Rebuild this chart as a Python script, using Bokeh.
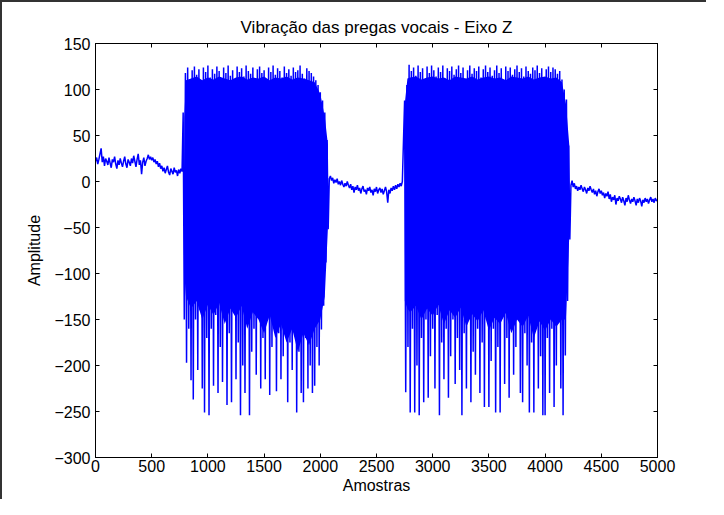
from bokeh.plotting import figure
from bokeh.models import LinearAxis, FixedTicker, Range1d
from bokeh.embed import file_html
from bokeh.resources import INLINE

title_text = "Vibração das pregas vocais - Eixo Z"
x_label = "Amostras"
y_label = "Amplitude"
x_ticks = [0, 500, 1000, 1500, 2000, 2500, 3000, 3500, 4000, 4500, 5000]
y_ticks = [-300, -250, -200, -150, -100, -50, 0, 50, 100, 150]

# quiet segment before first burst (samples 0..770, every 10 samples)
quiet1_start, quiet1_step = 0, 10
quiet1 = [22, 26, 19, 24, 30, 36, 21, 27, 17, 25,
          22, 18, 26, 20, 15, 24, 21, 27, 19, 14,
          23, 18, 25, 20, 16, 22, 27, 19, 15, 24,
          21, 17, 25, 20, 28, 22, 16, 24, 30, 18,
          23, 8, 21, 26, 17, 22, 25, 29, 24, 27,
          23, 26, 21, 24, 19, 22, 16, 20, 14, 17,
          11, 15, 9, 13, 17, 10, 7, 14, 11, 8,
          15, 10, 12, 6, 13, 9, 14, 11]

# first burst: peak (top) and trough (bottom) values, every 20 samples
burst1_start, burst1_step = 780, 20
burst1_top = [75, 118, 124, 110, 121, 125, 116, 122, 108, 124,
              119, 126, 113, 122, 117, 125, 120, 111, 124, 118,
              126, 115, 121, 109, 125, 119, 123, 114, 126, 120,
              117, 124, 112, 122, 125, 118, 121, 110, 124, 119,
              126, 116, 123, 120, 113, 125, 118, 122, 115, 124,
              119, 121, 126, 117, 112, 123, 120, 118, 114, 110,
              105, 97, 88, 75, 45]
burst1_bottom = [-150, -197, -160, -216, -237, -150, -205, -140, -225, -251,
                 -170, -254, -160, -222, -145, -230, -180, -218, -150, -243,
                 -165, -240, -140, -215, -175, -254, -200, -230, -150, -254,
                 -185, -160, -210, -140, -225, -170, -215, -150, -232, -180,
                 -145, -228, -165, -215, -190, -150, -240, -175, -205, -160,
                 -251, -185, -230, -240, -170, -225, -200, -230, -222, -180,
                 -200, -161, -135, -88, -52]
# densely filled core of the first burst
core1_x = [790, 805, 850, 900, 950, 1000, 1050, 1100, 1150, 1200, 1250, 1300,
           1350, 1400, 1450, 1500, 1550, 1600, 1650, 1700, 1750, 1800, 1850,
           1900, 1950, 2000, 2040, 2068]
core1_top = [70, 110, 112, 114, 110, 113, 111, 114, 112, 110, 113, 114,
             111, 113, 112, 114, 110, 113, 112, 114, 111, 113, 112,
             110, 108, 95, 70, 40]
core1_bottom = [-100, -125, -138, -130, -150, -134, -145, -132, -155, -138, -148, -135,
                -160, -142, -150, -165, -145, -170, -155, -175, -160, -185, -165,
                -178, -160, -150, -125, -50]

# quiet segment between bursts
quiet2_start, quiet2_step = 2080, 10
quiet2 = [3, 6, 1, 4, -2, 2, -1, 3, -3, 0,
          -4, 1, -3, -6, -2, -5, 0, -4, -7, -3,
          -9, -5, -12, -6, -9, -4, -10, -7, -13, -8,
          -5, -11, -9, -14, -7, -10, -6, -12, -9, -15,
          -8, -11, -6, -13, -9, -7, -12, -8, -14, -10,
          -6, -11, -23, -9, -13, -7, -10, -5, -9, -4,
          -8, -3, -6, -2, -5, 0]

# second burst
burst2_start, burst2_step = 2750, 20
burst2_top = [88, 105, 127, 120, 124, 115, 126, 119, 123, 110,
              125, 118, 126, 121, 114, 124, 119, 126, 112, 123,
              120, 125, 116, 122, 126, 118, 124, 109, 121, 126,
              117, 123, 120, 125, 113, 122, 126, 119, 124, 115,
              121, 126, 118, 123, 111, 125, 120, 124, 116, 122,
              126, 119, 123, 114, 125, 120, 117, 124, 121, 126,
              118, 123, 112, 122, 125, 119, 124, 122, 117, 120,
              111, 100, 89, 39]
burst2_bottom = [-229, -180, -251, -160, -251, -200, -254, -170, -240, -150,
                 -235, -190, -160, -225, -145, -254, -175, -215, -160, -235,
                 -190, -150, -220, -170, -205, -254, -165, -225, -150, -240,
                 -185, -210, -160, -230, -175, -245, -150, -245, -195, -160,
                 -251, -180, -251, -140, -220, -170, -235, -155, -210, -180,
                 -150, -230, -240, -165, -200, -251, -175, -251, -150, -225,
                 -190, -254, -254, -170, -230, -160, -245, -200, -150, -225,
                 -254, -189, -130, -63]
# densely filled core of the second burst
core2_x = [2752, 2775, 2800, 2850, 2900, 2950, 3000, 3050, 3100, 3150, 3200,
           3250, 3300, 3350, 3400, 3450, 3500, 3550, 3600, 3650, 3700, 3750,
           3800, 3850, 3900, 3950, 4000, 4050, 4100, 4150, 4185, 4215]
core2_top = [85, 112, 113, 114, 111, 113, 114, 112, 113, 110, 114,
             113, 112, 114, 111, 113, 114, 112, 113, 110, 114, 113,
             112, 114, 111, 113, 114, 112, 113, 108, 85, 40]
core2_bottom = [-130, -138, -142, -135, -150, -138, -146, -134, -155, -140, -148,
                -137, -158, -144, -152, -140, -162, -148, -155, -143, -165, -150,
                -158, -146, -170, -152, -162, -150, -158, -150, -150, -60]

# quiet segment after second burst
quiet3_start, quiet3_step = 4230, 10
quiet3 = [-4, 1, -6, -2, -8, -5, -10, -6, -9, -4,
          -8, -11, -6, -9, -13, -7, -10, -5, -9, -12,
          -8, -14, -10, -16, -11, -8, -13, -10, -15, -12,
          -18, -13, -16, -11, -19, -14, -22, -17, -20, -15,
          -25, -18, -21, -16, -19, -23, -17, -21, -26, -18,
          -22, -15, -20, -24, -19, -22, -17, -21, -26, -19,
          -23, -18, -21, -27, -20, -23, -18, -22, -19, -24,
          -20, -17, -22, -19, -23, -18, -21, -20]


def quiet_pts(start, step, vals):
    return [start + i * step for i in range(len(vals))], list(vals)


def burst_pts(start, step, tops, bottoms):
    xs, ys = [], []
    for i, (t, b) in enumerate(zip(tops, bottoms)):
        xs += [start + i * step, start + i * step + step / 2]
        ys += [t, b]
    return xs, ys


xs, ys = [], []
for sx, sy in [quiet_pts(quiet1_start, quiet1_step, quiet1),
               burst_pts(burst1_start, burst1_step, burst1_top, burst1_bottom),
               quiet_pts(quiet2_start, quiet2_step, quiet2),
               burst_pts(burst2_start, burst2_step, burst2_top, burst2_bottom),
               quiet_pts(quiet3_start, quiet3_step, quiet3)]:
    xs += sx
    ys += sy

FONT = "Liberation Sans"
BLUE = "#0000FF"

p = figure(frame_width=562, frame_height=414,
           min_border_left=93, min_border_right=49,
           min_border_top=41, min_border_bottom=42,
           x_range=Range1d(0, 5000), y_range=Range1d(-300, 150),
           output_backend="svg", toolbar_location=None,
           title=title_text,
           styles={"border-left": "2px solid #333", "border-top": "2px solid #333"})

p.varea(x=core1_x, y1=core1_bottom, y2=core1_top, fill_color=BLUE)
p.varea(x=core2_x, y1=core2_bottom, y2=core2_top, fill_color=BLUE)
p.line(xs, ys, line_color=BLUE, line_width=1.5)

p.xgrid.visible = False
p.ygrid.visible = False
p.outline_line_color = "black"
p.background_fill_color = "white"
p.border_fill_color = "white"

p.title.text_font = FONT
p.title.text_font_size = "17px"
p.title.text_font_style = "normal"
p.title.align = "center"
p.title.text_color = "black"
p.title.standoff = 14

for ax, ticks in [(p.xaxis[0], x_ticks), (p.yaxis[0], y_ticks)]:
    ax.ticker = FixedTicker(ticks=ticks)
    ax.major_tick_in = 4
    ax.major_tick_out = 0
    ax.minor_tick_line_color = None
    ax.axis_line_color = "black"
    ax.major_tick_line_color = "black"
    ax.major_label_text_font = FONT
    ax.major_label_text_font_size = "16px"
    ax.major_label_text_color = "black"
    ax.axis_label_text_font = FONT
    ax.axis_label_text_font_size = "16px"
    ax.axis_label_text_font_style = "normal"
    ax.axis_label_text_color = "black"

p.xaxis[0].axis_label = x_label
p.yaxis[0].axis_label = y_label
p.xaxis[0].major_label_standoff = 2
p.yaxis[0].major_label_standoff = 5
p.xaxis[0].axis_label_standoff = 2
p.yaxis[0].axis_label_standoff = 8

for loc, ticks in [("right", y_ticks), ("above", x_ticks)]:
    ax = LinearAxis(ticker=FixedTicker(ticks=ticks),
                    major_label_text_font_size="0px",
                    major_label_text_color=None,
                    major_label_standoff=0,
                    major_tick_in=4, major_tick_out=0,
                    minor_tick_line_color=None,
                    axis_line_color="black",
                    major_tick_line_color="black")
    p.add_layout(ax, loc)

open("out.html", "w").write(file_html(p, INLINE))
